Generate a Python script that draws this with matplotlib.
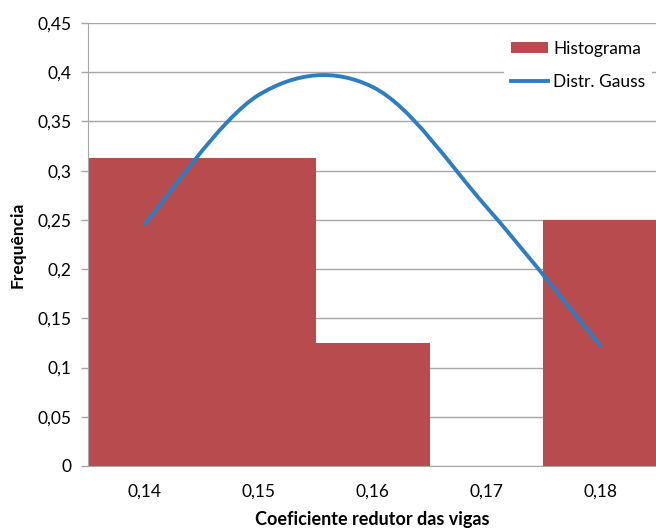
import numpy as np
import matplotlib.pyplot as plt
import matplotlib as mpl
from matplotlib.path import Path
from matplotlib.patches import PathPatch
from matplotlib.lines import Line2D
from matplotlib.patches import Patch

# 设置绘图格式
mpl.rcParams.update({
    "font.family": ["Lato", "DejaVu Sans"],
    "font.size": 12.5,
})

# 数据
categorias = ["0,14", "0,15", "0,16", "0,17", "0,18"]
histograma = [0.3125, 0.3125, 0.125, 0.0, 0.25]
gauss = [0.246, 0.377, 0.385, 0.263, 0.122]
y_ticks = [0, 0.05, 0.1, 0.15, 0.2, 0.25, 0.3, 0.35, 0.4, 0.45]
y_labels = ["0", "0,05", "0,1", "0,15", "0,2", "0,25", "0,3", "0,35", "0,4", "0,45"]

cor_barra = "#B84B4E"
cor_linha = "#2E7DC2"
cor_grade = "#A6A6A6"


def smooth_path(xs, ys):
    # linha suavizada estilo Excel (Bezier tipo Catmull-Rom)
    n = len(xs)
    verts = [(xs[0], ys[0])]
    codes = [Path.MOVETO]
    for i in range(n - 1):
        x0, y0 = xs[max(i - 1, 0)], ys[max(i - 1, 0)]
        x1, y1 = xs[i], ys[i]
        x2, y2 = xs[i + 1], ys[i + 1]
        x3, y3 = xs[min(i + 2, n - 1)], ys[min(i + 2, n - 1)]
        c1 = (x1 + (x2 - x0) / 6.0, y1 + (y2 - y0) / 6.0)
        c2 = (x2 - (x3 - x1) / 6.0, y2 - (y3 - y1) / 6.0)
        verts += [c1, c2, (x2, y2)]
        codes += [Path.CURVE4] * 3
    return Path(verts, codes)


fig = plt.figure(figsize=(6.56, 5.29), dpi=100)
ax = fig.add_axes([0.1341, 0.1191, 0.8680, 0.8374])

x = np.arange(len(categorias))
ax.bar(x, histograma, width=1.0, color=cor_barra, zorder=2)

path = smooth_path(list(x.astype(float)), gauss)
ax.add_patch(PathPatch(path, facecolor="none", edgecolor=cor_linha, lw=2.8,
                       capstyle="round", zorder=3))

ax.set_xlim(-0.5, 4.5)
ax.set_ylim(0, 0.45)
ax.set_yticks(y_ticks)
ax.set_yticklabels(y_labels)
ax.set_xticks(x)
ax.set_xticklabels(categorias)
ax.tick_params(axis="x", length=0, pad=13)
ax.tick_params(axis="y", length=5, color=cor_grade, width=1, pad=7)
ax.yaxis.grid(True, color=cor_grade, lw=1.0, zorder=0)
ax.set_axisbelow(True)

for s in ["top", "right"]:
    ax.spines[s].set_visible(False)
ax.spines["left"].set_color(cor_grade)
ax.spines["bottom"].set_color(cor_grade)
ax.spines["left"].set_zorder(4)
ax.spines["bottom"].set_zorder(4)

ax.set_ylabel("Frequência", fontweight="bold", fontsize=12.5, labelpad=8)
ax.set_xlabel("Coeficiente redutor das vigas", fontweight="bold", fontsize=13, labelpad=8)

handles = [Patch(facecolor=cor_barra, edgecolor="none"),
           Line2D([0], [0], color=cor_linha, lw=2.8)]
leg = ax.legend(handles, ["Histograma", "Distr. Gauss"], loc="upper left",
                bbox_to_anchor=(0.73, 0.975), frameon=True, fancybox=False,
                edgecolor="none", facecolor="white", framealpha=1.0,
                handlelength=2.15, handleheight=0.6, handletextpad=0.3,
                labelspacing=0.95, borderpad=0.4, borderaxespad=0.0, fontsize=12.5)
leg.set_zorder(5)

fig.savefig("out.png", dpi=100)
